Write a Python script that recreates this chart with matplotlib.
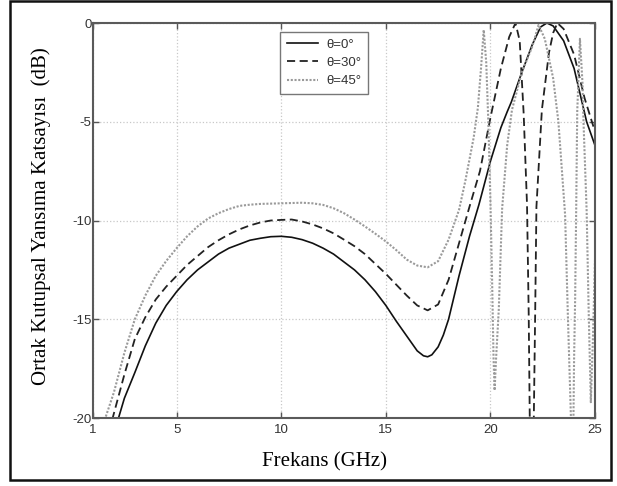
import matplotlib
matplotlib.use('Agg')
import matplotlib.pyplot as plt
from matplotlib.patches import Rectangle

# theta = 0 deg (solid)
freq_0 = [2.0, 2.22, 2.5, 3.0, 3.5, 4.0, 4.5, 5.0, 5.5, 6.0, 6.5, 7.0, 7.5, 8.0, 8.5, 9.0,
          9.5, 10.0, 10.5, 11.0, 11.5, 12.0, 12.5, 13.0, 13.5, 14.0, 14.5, 15.0, 15.5,
          16.0, 16.5, 16.8, 17.0, 17.2, 17.5, 17.75, 18.0, 18.5, 19.0, 19.45, 20.0, 20.5,
          20.8, 21.0, 21.5, 22.0, 22.4, 22.7, 23.0, 23.5, 24.0, 24.6, 25.0]
db_0 = [-22.5, -20.0, -19.0, -17.7, -16.35, -15.2, -14.3, -13.6, -13.0, -12.5, -12.1, -11.7,
        -11.4, -11.2, -11.0, -10.9, -10.82, -10.8, -10.85, -10.97, -11.15, -11.4, -11.7,
        -12.1, -12.5, -13.0, -13.6, -14.3, -15.1, -15.85, -16.6, -16.85, -16.9, -16.8,
        -16.4, -15.8, -15.0, -12.8, -10.8, -9.2, -7.0, -5.3, -4.5, -4.0, -2.5, -1.1,
        -0.2, 0.0, -0.15, -0.9, -2.3, -5.0, -6.2]

# theta = 30 deg (dashed)
freq_30 = [1.7, 1.94, 2.5, 3.0, 3.5, 4.0, 4.5, 5.0, 5.5, 6.0, 6.5, 7.0, 7.5, 8.0, 8.5, 9.0,
           9.5, 10.0, 10.5, 11.0, 11.5, 12.0, 12.5, 13.0, 13.5, 14.0, 14.5, 15.0, 15.5,
           16.0, 16.5, 17.0, 17.5, 18.0, 18.5, 19.0, 19.5, 20.0, 20.5, 20.9, 21.2, 21.4,
           21.59, 21.75, 21.83, 21.9, 21.97, 22.05, 22.14, 22.2, 22.46, 22.8, 23.0, 23.2,
           23.5, 24.0, 24.5, 25.0]
db_30 = [-22.0, -20.0, -17.8, -16.0, -14.9, -14.0, -13.35, -12.8, -12.25, -11.8, -11.35,
         -11.0, -10.7, -10.45, -10.25, -10.1, -10.0, -9.97, -9.95, -10.05, -10.2, -10.4,
         -10.65, -10.97, -11.3, -11.7, -12.2, -12.7, -13.25, -13.8, -14.3, -14.55, -14.25,
         -13.0, -11.15, -9.3, -7.5, -4.8, -2.3, -0.7, 0.0, -0.9, -4.6, -9.2, -14.7, -22.0,
         -30.0, -22.0, -14.7, -9.3, -4.4, -1.5, -0.5, 0.0, -0.3, -1.6, -3.8, -5.5]

# theta = 45 deg (dotted)
freq_45 = [1.4, 1.59, 2.0, 2.5, 3.0, 3.5, 4.0, 4.5, 5.0, 5.5, 6.0, 6.5, 7.0, 7.5, 8.0, 8.5,
           9.0, 10.0, 11.0, 11.5, 12.0, 12.5, 13.0, 13.5, 14.0, 14.5, 15.0, 15.5, 16.0,
           16.5, 17.0, 17.5, 18.0, 18.5, 18.8, 19.0, 19.2, 19.4, 19.55, 19.68, 19.8, 19.9,
           20.0, 20.08, 20.15, 20.2, 20.27, 20.4, 20.56, 20.8, 21.03, 21.5, 22.0, 22.3,
           22.6, 23.0, 23.25, 23.57, 23.7, 23.85, 23.92, 24.0, 24.05, 24.1, 24.15, 24.28,
           24.4, 24.45, 24.6, 24.7, 24.8, 24.9, 25.0]
db_45 = [-22.0, -20.0, -18.7, -16.7, -15.0, -13.8, -12.8, -12.05, -11.4, -10.8, -10.3, -9.9,
         -9.63, -9.42, -9.26, -9.2, -9.16, -9.13, -9.1, -9.13, -9.21, -9.38, -9.63, -9.95,
         -10.3, -10.67, -11.06, -11.5, -11.98, -12.28, -12.37, -12.06, -10.97, -9.46,
         -8.0, -6.9, -5.8, -4.3, -2.3, -0.35, -2.0, -5.0, -9.0, -13.0, -17.0, -18.6,
         -17.0, -14.5, -9.4, -6.2, -4.4, -2.5, -1.2, -0.1, -0.8, -2.8, -5.0, -9.7, -14.7,
         -20.0, -25.0, -17.0, -14.0, -9.5, -4.5, -0.8, -3.0, -5.0, -9.5, -14.7, -19.2,
         -16.0, -12.0]

x_ticks = [1, 5, 10, 15, 20, 25]
y_ticks = [-20, -15, -10, -5, 0]
labels = ['θ=0°', 'θ=30°', 'θ=45°']

plt.rcParams['font.family'] = ['Liberation Sans', 'DejaVu Sans']
plt.rcParams['axes.unicode_minus'] = False

fig = plt.figure(figsize=(6.17, 4.86), dpi=100)
ax = fig.add_axes([93 / 617, 1 - 418 / 486, 502 / 617, 395 / 486])

ax.plot(freq_0, db_0, color='#111111', lw=1.2, ls='-', label=labels[0])
ax.plot(freq_30, db_30, color='#222222', lw=1.3, ls=(0, (4.5, 2.5)), label=labels[1])
ax.plot(freq_45, db_45, color='#9a9a9a', lw=1.5, ls=(0, (1, 0.8)), label=labels[2])

ax.set_xlim(1, 25)
ax.set_ylim(-20, 0)
ax.set_xticks(x_ticks)
ax.set_yticks(y_ticks)
ax.grid(True, color='#c8c8c8', ls=':', lw=0.9)
ax.tick_params(direction='in', length=4, width=1, color='#555555', labelcolor='#333333',
               labelsize=9.5, top=True, right=True)
ax.tick_params(axis='y', pad=1)
ax.tick_params(axis='x', pad=4)
for sp in ax.spines.values():
    sp.set_color('#5a5a5a')
    sp.set_linewidth(1.5)

leg = ax.legend(loc='upper left', bbox_to_anchor=((280 - 93) / 502, (418 - 32) / 395),
                borderaxespad=0, fontsize=9.5, fancybox=False, edgecolor='#777777',
                framealpha=1, handlelength=2.4, handletextpad=0.6, borderpad=0.5,
                labelspacing=0.45)
leg.get_frame().set_linewidth(1.0)
for t in leg.get_texts():
    t.set_color('#333333')

fig.text(41 / 617, 1 - 216 / 486, 'Ortak Kutupsal Yansıma Katsayısı  (dB)', rotation=90,
         ha='center', va='center', fontsize=15, family='Liberation Serif')
fig.text(325 / 617, 1 - 462 / 486, 'Frekans (GHz)', ha='center', va='center',
         fontsize=15, family='Liberation Serif')

fig.patches.append(Rectangle((10 / 617, 1 - 480 / 486), 601 / 617, 479 / 486,
                             transform=fig.transFigure, fill=False, edgecolor='#111111',
                             lw=1.8))

plt.savefig('out.png', dpi=100)
